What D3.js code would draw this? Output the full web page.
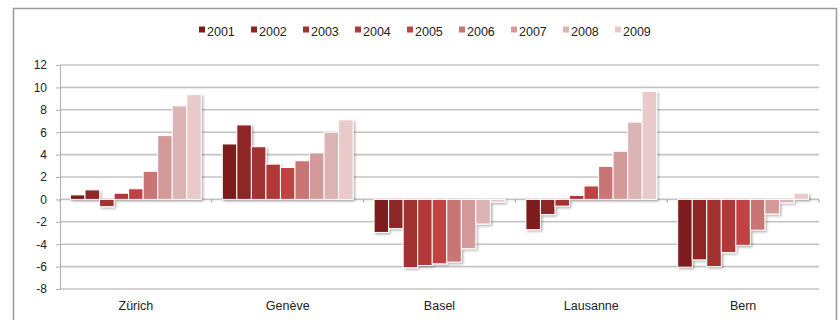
<!DOCTYPE html>
<html>
<head>
<meta charset="utf-8">
<script src="https://cdn.jsdelivr.net/npm/d3@7"></script>
<style>
  body { margin: 0; background: #fff; }
  svg { display: block; font-family: "Liberation Sans", Arial, sans-serif; }
</style>
</head>
<body>
<svg id="chart" width="840" height="320"></svg>
<script>
const cities = ['Zürich', 'Genève', 'Basel', 'Lausanne', 'Bern'];
const years = ['2001', '2002', '2003', '2004', '2005', '2006', '2007', '2008', '2009'];
const colors = ['#7d1b1b', '#8e2626', '#a03030', '#b23838', '#c04242', '#c97474', '#d49a9a', '#ddb4b4', '#e8caca'];
const yTicks = [-8, -6, -4, -2, 0, 2, 4, 6, 8, 10, 12];

// values per city, one per year 2001..2009
const zurich   = [0.4, 0.85, -0.65, 0.55, 0.95, 2.5, 5.7, 8.35, 9.35];
const geneve   = [4.95, 6.65, 4.7, 3.15, 2.85, 3.45, 4.15, 6.0, 7.1];
const basel    = [-2.95, -2.6, -6.1, -5.9, -5.75, -5.6, -4.4, -2.2, -0.25];
const lausanne = [-2.7, -1.35, -0.6, 0.35, 1.2, 2.95, 4.3, 6.9, 9.65];
const bern     = [-6.05, -5.4, -6.0, -4.75, -4.1, -2.75, -1.3, -0.3, 0.55];
const values = [zurich, geneve, basel, lausanne, bern];

const svg = d3.select('#chart');
const margin = { left: 60, right: 20 };
const width = 819 - margin.left;

const defs = svg.append('defs');
const shadow = defs.append('filter').attr('id', 'shadow')
    .attr('x', '-20%').attr('y', '-20%').attr('width', '150%').attr('height', '150%');
shadow.append('feDropShadow')
    .attr('dx', 1.5).attr('dy', 1.5).attr('stdDeviation', 1.2)
    .attr('flood-color', '#000').attr('flood-opacity', 0.3);

// outer frame
svg.append('rect')
    .attr('x', 13.5).attr('y', 8.5)
    .attr('width', 823).attr('height', 330)
    .attr('fill', '#fff')
    .attr('stroke', '#9a9a9a')
    .attr('stroke-width', 1.5);

const y = d3.scaleLinear().domain([-8, 12]).range([289, 65]);
const x0 = d3.scaleBand().domain(cities).range([margin.left, margin.left + width]);
const pad = 10.5;
const x1 = d3.scaleBand().domain(years).range([pad, x0.bandwidth() - pad]);

// gridlines
svg.append('g')
    .selectAll('line')
    .data(yTicks)
    .join('line')
    .attr('x1', margin.left)
    .attr('x2', margin.left + width)
    .attr('y1', d => y(d))
    .attr('y2', d => y(d))
    .attr('stroke', '#c4c4c4')
    .attr('stroke-width', 1.6);

// y axis
const yAxis = svg.append('g')
    .attr('transform', `translate(${margin.left},0)`)
    .call(d3.axisLeft(y).tickValues(yTicks).tickSize(4).tickPadding(9)
        .tickFormat(d => String(d)));
yAxis.select('.domain').attr('stroke', '#b0b0b0');
yAxis.selectAll('.tick line').attr('stroke', '#b0b0b0');
yAxis.selectAll('.tick text').attr('font-size', 12).attr('fill', '#222');

// category ticks on zero line
svg.append('g')
    .selectAll('line')
    .data(d3.range(cities.length + 1))
    .join('line')
    .attr('x1', i => margin.left + i * x0.bandwidth())
    .attr('x2', i => margin.left + i * x0.bandwidth())
    .attr('y1', y(0))
    .attr('y2', y(0) + 3)
    .attr('stroke', '#999');

// bars
const groups = svg.append('g')
    .selectAll('g')
    .data(cities)
    .join('g')
    .attr('transform', d => `translate(${x0(d)},0)`)
    .attr('filter', 'url(#shadow)');

groups.selectAll('rect')
    .data((c, ci) => years.map((yr, i) => ({ yr, i, v: values[ci][i] })))
    .join('rect')
    .attr('x', d => x1(d.yr))
    .attr('width', x1.bandwidth())
    .attr('y', d => y(Math.max(0, d.v)))
    .attr('height', d => Math.abs(y(d.v) - y(0)))
    .attr('fill', d => colors[d.i])
    .attr('stroke', '#fff')
    .attr('stroke-width', 1);

// category labels
svg.append('g')
    .selectAll('text')
    .data(cities)
    .join('text')
    .attr('x', d => x0(d) + x0.bandwidth() / 2)
    .attr('y', 310)
    .attr('text-anchor', 'middle')
    .attr('font-size', 12.5)
    .attr('fill', '#222')
    .text(d => d);

// legend
const legendX = [199, 251, 303, 355, 407, 459, 511, 563, 615];
const legend = svg.append('g')
    .selectAll('g')
    .data(years)
    .join('g')
    .attr('transform', (d, i) => `translate(${legendX[i]},31)`);
legend.append('rect')
    .attr('x', 0).attr('y', -4.5)
    .attr('width', 6).attr('height', 6)
    .attr('fill', (d, i) => colors[i]);
legend.append('text')
    .attr('x', 8).attr('y', 4.5)
    .attr('font-size', 12.5)
    .attr('fill', '#222')
    .text(d => d);
</script>
</body>
</html>
